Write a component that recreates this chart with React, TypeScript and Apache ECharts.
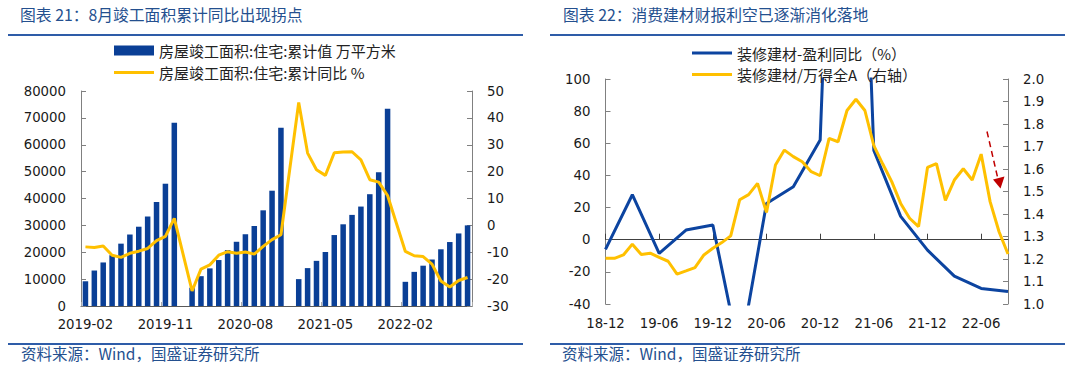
import React, { useEffect, useRef } from "react";
import * as echarts from "echarts";

// ---------- Left chart data ----------
const leftCategories: string[] = [
  "2019-02", "2019-03", "2019-04", "2019-05", "2019-06", "2019-07", "2019-08", "2019-09", "2019-10", "2019-11", "2019-12",
  "2020-01", "2020-02", "2020-03", "2020-04", "2020-05", "2020-06", "2020-07", "2020-08", "2020-09", "2020-10", "2020-11", "2020-12",
  "2021-01", "2021-02", "2021-03", "2021-04", "2021-05", "2021-06", "2021-07", "2021-08", "2021-09", "2021-10", "2021-11", "2021-12",
  "2022-01", "2022-02", "2022-03", "2022-04", "2022-05", "2022-06", "2022-07", "2022-08", "2022-09",
];
const completedArea: (number | null)[] = [
  9200, 13200, 16200, 18900, 23200, 26600, 29500, 33300, 38700, 45500, 68200,
  null, 6800, 11100, 14000, 17100, 20800, 23900, 26700, 29800, 35600, 42900, 66300,
  null, 10000, 14100, 16800, 20100, 26400, 30400, 33900, 37000, 41600, 49800, 73400,
  null, 9000, 12700, 15000, 17300, 21100, 23800, 27000, 30000,
];
const completedYoY: (number | null)[] = [
  -8.0, -8.2, -7.7, -11.1, -11.9, -10.4, -9.6, -8.6, -5.7, -4.1, 2.6,
  null, -24.4, -16.3, -14.7, -11.1, -9.8, -10.4, -9.9, -10.7, -7.8, -5.3, -3.5,
  null, 45.7, 26.9, 20.7, 18.6, 27.0, 27.3, 27.4, 24.4, 17.0, 16.1, 11.1,
  null, -9.7, -11.3, -11.6, -14.4, -20.7, -22.9, -20.5, -19.4,
];

// ---------- Right chart data ----------
const rightCategories: string[] = [
  "18-12",
  "19-01", "19-02", "19-03", "19-04", "19-05", "19-06", "19-07", "19-08", "19-09", "19-10", "19-11", "19-12",
  "20-01", "20-02", "20-03", "20-04", "20-05", "20-06", "20-07", "20-08", "20-09", "20-10", "20-11", "20-12",
  "21-01", "21-02", "21-03", "21-04", "21-05", "21-06", "21-07", "21-08", "21-09", "21-10", "21-11", "21-12",
  "22-01", "22-02", "22-03", "22-04", "22-05", "22-06", "22-07", "22-08", "22-09",
];
const profitYoY: (number | null)[] = [
  -6, null, null, 28, null, null, -8.5, null, null, 6, null, null, 9.2,
  null, null, -72, null, null, 22.5, null, null, 33, null, null, 62,
  null, null, 500, null, null, 55.5, null, null, 14.5, null, null, -6.5,
  null, null, -22.7, null, null, -30.3, null, null, -32.2,
];
const relativeToWindA: number[] = [
  1.203,
  1.203, 1.218, 1.266, 1.22, 1.226, 1.207, 1.19, 1.133, 1.147, 1.162, 1.218, 1.248,
  1.273, 1.303, 1.463, 1.486, 1.536, 1.407, 1.618, 1.684, 1.655, 1.632, 1.588, 1.57,
  1.736, 1.721, 1.86, 1.91, 1.86, 1.704, 1.622, 1.544, 1.447, 1.381, 1.344, 1.607,
  1.624, 1.461, 1.551, 1.601, 1.551, 1.666, 1.455, 1.321, 1.222,
];

const leftNames = ["房屋竣工面积:住宅:累计值 万平方米", "房屋竣工面积:住宅:累计同比 %"];
const rightNames = ["装修建材-盈利同比（%）", "装修建材/万得全A（右轴）"];

const CJK = '"Noto Sans CJK SC", "Noto Sans", sans-serif';
const NUM = '"DejaVu Sans", sans-serif';
const BAR_BLUE = "#0A3F96";
const LINE_BLUE = "#0C44A0";
const GOLD = "#FFC000";
const TITLE_BLUE = "#24508F";
const RULE_BLUE = "#2E5CA8";
const AXIS_GRAY = "#808080";
const LABEL = "#1a1a1a";
const LINE_ICON = "path://M0,0L0.01,0Z M0,3.5H40V6.5H0Z M0,10L0.01,10Z";

const numLabel = { fontSize: 13.3, fontFamily: NUM, color: LABEL };
const legendText = { fontSize: 15, lineHeight: 15, color: "#222", fontFamily: CJK };

export default function App() {
  const ref = useRef<HTMLDivElement>(null);
  useEffect(() => {
    document.body.style.margin = "0";
    const chart = echarts.init(ref.current!, null, { renderer: "svg" });
    chart.setOption({
      animation: false,
      backgroundColor: "#ffffff",
      title: [
        {
          text: "图表 21：8月竣工面积累计同比出现拐点",
          left: 20, top: 7, padding: 0,
          textStyle: { fontSize: 15.8, fontWeight: "normal", color: TITLE_BLUE, fontFamily: CJK },
        },
        {
          text: "图表 22：消费建材财报利空已逐渐消化落地",
          left: 563, top: 7, padding: 0,
          textStyle: { fontSize: 15.8, fontWeight: "normal", color: TITLE_BLUE, fontFamily: CJK },
        },
      ],
      legend: [
        {
          data: [
            { name: leftNames[0], icon: "rect" },
            { name: leftNames[1], icon: LINE_ICON },
          ],
          orient: "vertical", left: 114, top: 43, padding: 0,
          itemWidth: 40, itemHeight: 10, itemGap: 7,
          textStyle: legendText,
        },
        {
          data: [
            { name: rightNames[0], icon: LINE_ICON },
            { name: rightNames[1], icon: LINE_ICON },
          ],
          orient: "vertical", left: 692, top: 45.5, padding: 0,
          itemWidth: 40, itemHeight: 10, itemGap: 6.5,
          textStyle: legendText,
        },
      ],
      grid: [
        { left: 81, top: 91, width: 391, height: 215, outerBoundsMode: "none" },
        { left: 605.5, top: 79, width: 402.5, height: 225, outerBoundsMode: "none" },
      ],
      xAxis: [
        {
          gridIndex: 0, type: "category", data: leftCategories, boundaryGap: true,
          axisLine: { onZero: false, lineStyle: { color: "#595959" } },
          axisTick: { show: true, inside: true, interval: 8, length: 4, lineStyle: { color: "#aaa" } },
          axisLabel: { ...numLabel, interval: 8, margin: 12 },
        },
        {
          gridIndex: 1, type: "category", data: rightCategories, boundaryGap: false,
          axisLine: { onZero: true, onZeroAxisIndex: 2, lineStyle: { color: "#404040" } },
          axisTick: { show: true, inside: true, interval: 5, length: 6, lineStyle: { color: "#404040" } },
          axisLabel: { show: false },
        },
        {
          gridIndex: 1, type: "category", data: rightCategories, boundaryGap: false, position: "bottom",
          axisLine: { show: false, onZero: false },
          axisTick: { show: false },
          axisLabel: { ...numLabel, interval: 5, margin: 13 },
        },
      ],
      yAxis: [
        {
          gridIndex: 0, type: "value", min: 0, max: 80000, interval: 10000, position: "left",
          axisLine: { show: true, lineStyle: { color: AXIS_GRAY } },
          axisTick: { show: true, inside: true, length: 5, lineStyle: { color: AXIS_GRAY } },
          splitLine: { show: false },
          axisLabel: { ...numLabel, margin: 15, formatter: (v: number) => String(v) },
        },
        {
          gridIndex: 0, type: "value", min: -30, max: 50, interval: 10, position: "right",
          axisLine: { show: true, lineStyle: { color: AXIS_GRAY } },
          axisTick: { show: true, inside: true, length: 5, lineStyle: { color: AXIS_GRAY } },
          splitLine: { show: false },
          axisLabel: { ...numLabel, margin: 15, formatter: (v: number) => String(v) },
        },
        {
          gridIndex: 1, type: "value", min: -40, max: 100, interval: 20, position: "left",
          axisLine: { show: true, lineStyle: { color: AXIS_GRAY } },
          axisTick: { show: true, inside: true, length: 5, lineStyle: { color: AXIS_GRAY } },
          splitLine: { show: false },
          axisLabel: { ...numLabel, margin: 15, formatter: (v: number) => String(v) },
        },
        {
          gridIndex: 1, type: "value", min: 1.0, max: 2.0, interval: 0.1, position: "right",
          axisLine: { show: true, lineStyle: { color: AXIS_GRAY } },
          axisTick: { show: true, inside: true, length: 5, lineStyle: { color: AXIS_GRAY } },
          splitLine: { show: false },
          axisLabel: { ...numLabel, margin: 15, formatter: (v: number) => v.toFixed(1) },
        },
      ],
      series: [
        {
          type: "bar", name: leftNames[0], xAxisIndex: 0, yAxisIndex: 0, data: completedArea,
          barWidth: "62%", itemStyle: { color: BAR_BLUE },
        },
        {
          type: "line", name: leftNames[1], xAxisIndex: 0, yAxisIndex: 1, data: completedYoY,
          symbol: "none", connectNulls: true,
          lineStyle: { width: 3, color: GOLD }, itemStyle: { color: GOLD },
        },
        {
          type: "line", name: rightNames[0], xAxisIndex: 1, yAxisIndex: 2, data: profitYoY,
          symbol: "none", connectNulls: true,
          lineStyle: { width: 3, color: LINE_BLUE }, itemStyle: { color: LINE_BLUE },
        },
        {
          type: "line", name: rightNames[1], xAxisIndex: 1, yAxisIndex: 3, data: relativeToWindA,
          symbol: "none",
          lineStyle: { width: 3, color: GOLD }, itemStyle: { color: GOLD },
        },
      ],
      graphic: [
        { type: "line", shape: { x1: 8, y1: 35, x2: 523, y2: 35 }, style: { stroke: RULE_BLUE, lineWidth: 2 } },
        { type: "line", shape: { x1: 8, y1: 344, x2: 523, y2: 344 }, style: { stroke: RULE_BLUE, lineWidth: 2 } },
        { type: "line", shape: { x1: 550, y1: 35, x2: 1065, y2: 35 }, style: { stroke: RULE_BLUE, lineWidth: 2 } },
        { type: "line", shape: { x1: 550, y1: 344, x2: 1065, y2: 344 }, style: { stroke: RULE_BLUE, lineWidth: 2 } },
        {
          type: "text", x: 21, y: 353,
          style: { text: "资料来源：Wind，国盛证券研究所", fontSize: 15.5, fontFamily: CJK, fill: TITLE_BLUE, verticalAlign: "middle" },
        },
        {
          type: "text", x: 562, y: 353,
          style: { text: "资料来源：Wind，国盛证券研究所", fontSize: 15.5, fontFamily: CJK, fill: TITLE_BLUE, verticalAlign: "middle" },
        },
        {
          type: "line", shape: { x1: 987, y1: 131.5, x2: 997.5, y2: 177 },
          style: { stroke: "#C00000", lineWidth: 1.5, lineDash: [6, 4] },
        },
        {
          type: "polygon", shape: { points: [[993, 179.5], [1004.5, 176.5], [1000.5, 188.5]] },
          style: { fill: "#C00000" },
        },
      ],
    });
    return () => chart.dispose();
  }, []);
  return <div ref={ref} style={{ width: 1080, height: 376, background: "#fff" }} />;
}
